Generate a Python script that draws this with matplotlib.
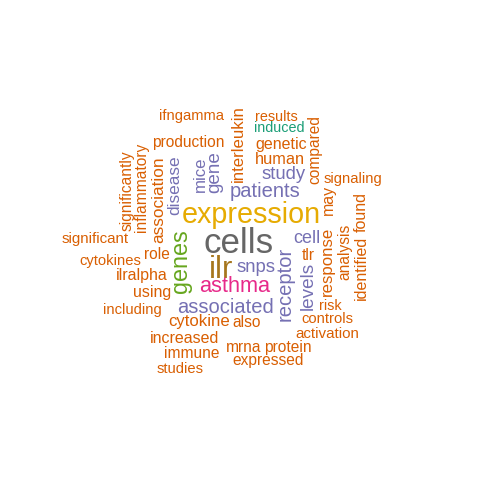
import matplotlib
matplotlib.use("Agg")
import matplotlib.pyplot as plt

# ---------------- data ----------------
words = [
    "cells", "ilr", "expression", "genes", "asthma",
    "patients", "associated", "receptor", "levels", "gene", "snps", "study",
    "cell", "disease", "mice",
    "association", "cytokine", "response", "interleukin", "ilralpha", "using",
    "identified", "increased", "found", "protein", "immune", "significantly",
    "also", "inflammatory", "compared", "analysis", "mrna", "expressed",
    "production", "role", "activation", "significant", "ifngamma", "signaling",
    "including", "controls", "cytokines", "studies", "results", "risk", "tlr",
    "may", "genetic", "human", "induced",
]
freq = [
    85, 76, 70, 57, 53,
    49, 49, 49, 46, 46, 45, 45,
    44, 42, 41,
    42, 41, 41, 41, 39, 39,
    39, 39, 39, 38, 38, 38,
    38, 38, 38, 38, 38, 38,
    38, 38, 37, 37, 36, 36,
    36, 36, 36, 36, 35, 35, 38,
    39, 39, 40, 35,
]

# ---------------- layout (pixel coords, y downwards) ----------------
# horizontal words: (center x, baseline y); vertical words: (baseline x, center y)
layout = {
    "ifngamma": (191.7, 120, 0), "results": (276.7, 121, 0),
    "induced": (279.7, 132, 0), "production": (188.3, 146.7, 0),
    "genetic": (281, 149.3, 0), "human": (279.7, 164.3, 0),
    "study": (283.8, 178.7, 0), "signaling": (353.3, 183.3, 0),
    "patients": (264.7, 196.7, 0), "expression": (251, 223, 0),
    "cells": (239, 253.3, 0), "significant": (95.5, 243, 0),
    "cell": (307.3, 243.3, 0), "cytokines": (110.8, 265, 0),
    "role": (157, 259.3, 0), "tlr": (308.7, 260, 0),
    "snps": (256.3, 271.7, 0), "ilr": (221, 278, 0),
    "ilralpha": (142, 280, 0), "asthma": (234.7, 291.7, 0),
    "using": (152, 296.7, 0), "risk": (330.5, 310, 0),
    "associated": (225, 312.7, 0), "including": (132, 314, 0),
    "controls": (327, 323.3, 0), "cytokine": (198.7, 326, 0),
    "also": (247, 326.7, 0), "activation": (327.5, 338, 0),
    "increased": (185, 343.3, 0), "mrna": (243.8, 351.7, 0),
    "protein": (288.3, 351.7, 0), "immune": (191.7, 358.3, 0),
    "expressed": (267.8, 365, 0), "studies": (180, 373.3, 0),
    "significantly": (131.7, 191, 90), "inflammatory": (146, 187, 90),
    "association": (163.3, 200, 90), "disease": (179.3, 185, 90),
    "mice": (205, 174, 90), "gene": (219, 172.5, 90),
    "interleukin": (242.7, 144, 90), "compared": (319.3, 150, 90),
    "may": (332.7, 200, 90), "response": (331.7, 261, 90),
    "analysis": (349, 252, 90), "identified": (366, 267.5, 90),
    "found": (366, 212, 90), "genes": (186.7, 261, 90),
    "receptor": (291, 284, 90), "levels": (312.7, 286, 90),
}

# Dark2 palette, colour by frequency class (as in R wordcloud)
palette = ["#1B9E77", "#D95F02", "#7570B3", "#E7298A",
           "#66A61E", "#E6AB02", "#A6761D", "#666666"]
colour_override = {"induced": 0, "genes": 4, "asthma": 3, "expression": 5,
                   "ilr": 6, "cells": 7}
purple = {"patients", "associated", "receptor", "levels", "gene", "snps",
          "study", "cell", "disease", "mice"}

DPI = 100
fig = plt.figure(figsize=(4.8, 4.8), dpi=DPI)
ax = fig.add_axes([0, 0, 1, 1])
ax.set_xlim(0, 480)
ax.set_ylim(480, 0)
ax.axis("off")

for w, f in zip(words, freq):
    x, y, rot = layout[w]
    if w in colour_override:
        c = palette[colour_override[w]]
    elif w in purple:
        c = palette[2]
    else:
        c = palette[1]
    em_px = f * 0.41
    size_pt = em_px * 72 / DPI
    ax.text(x, y, w, rotation=rot, rotation_mode="anchor",
            ha="center", va="baseline", fontsize=size_pt, color=c,
            family="Liberation Sans")

fig.savefig("out.png", dpi=DPI)
